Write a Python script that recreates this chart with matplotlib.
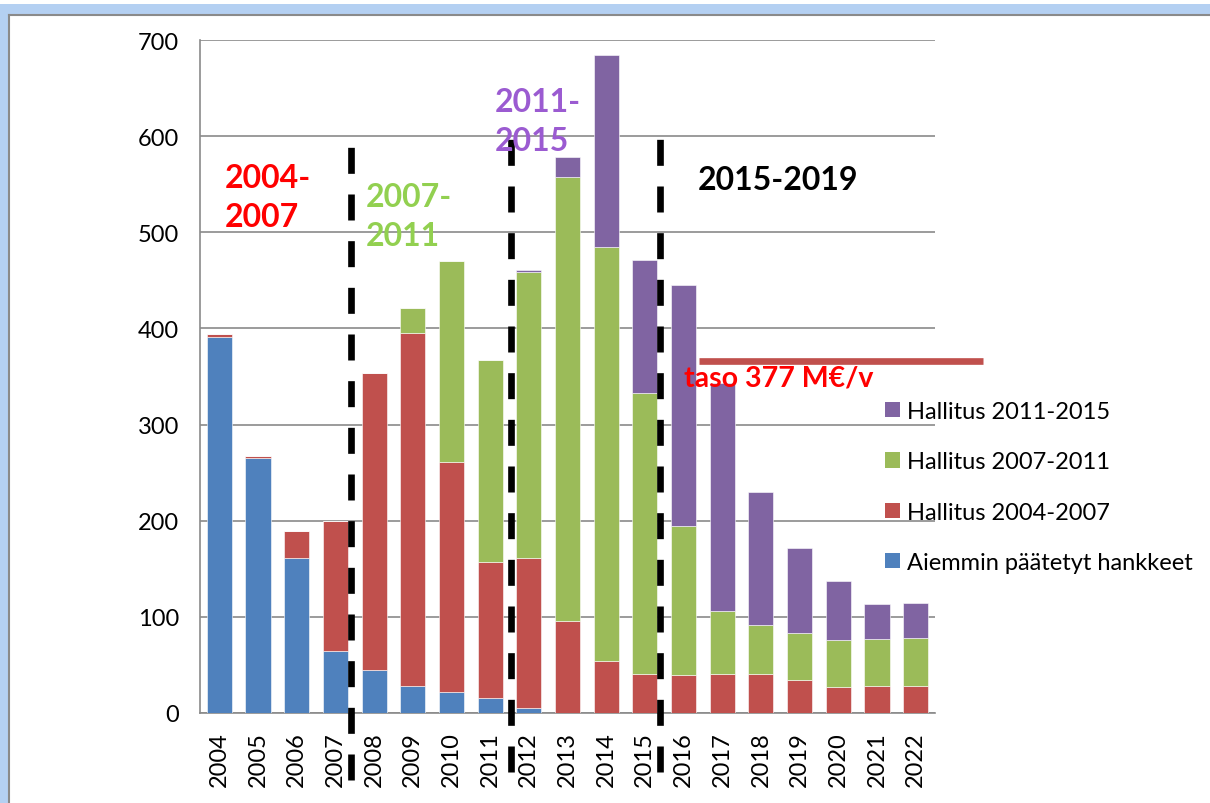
import numpy as np
import matplotlib.pyplot as plt
from matplotlib.patches import Rectangle, Patch
from matplotlib.lines import Line2D

plt.rcParams['font.family'] = ['Lato', 'DejaVu Sans']

years = [str(y) for y in range(2004, 2023)]
aiemmin = [391, 265, 161, 65, 45, 28, 22, 16, 5, 0, 0, 0, 0, 0, 0, 0, 0, 0, 0]
hall_0407 = [3, 2, 28, 135, 309, 367, 239, 141, 156, 96, 54, 41, 40, 41, 41, 34, 27, 28, 28]
hall_0711 = [0, 0, 0, 0, 0, 26, 209, 210, 298, 462, 431, 292, 155, 65, 51, 49, 49, 49, 50]
hall_1115 = [0, 0, 0, 0, 0, 0, 0, 0, 2, 20, 199, 138, 250, 237, 138, 89, 61, 36, 36]
labels = ['Aiemmin päätetyt hankkeet', 'Hallitus 2004-2007',
          'Hallitus 2007-2011', 'Hallitus 2011-2015']
colors = ['#4F81BD', '#C0504D', '#9BBB59', '#8064A2']
taso = 366  # level line as drawn in the picture

fig = plt.figure(figsize=(12.1, 8.04), dpi=100)
ax = fig.add_axes([200 / 1210, 1 - 714 / 804, 735 / 1210, 673 / 804])

x = np.arange(len(years))
bottom = np.zeros(len(years))
for vals, c in zip([aiemmin, hall_0407, hall_0711, hall_1115], colors):
    ax.bar(x, vals, width=0.65, bottom=bottom, color=c, edgecolor='white', linewidth=0.4, zorder=3)
    bottom += np.array(vals)

ax.set_xlim(-0.5, 18.5)
ax.set_ylim(0, 700)
ax.set_yticks(range(0, 701, 100))
ax.set_xticks(x)
ax.set_xticklabels(years, rotation=90)
ax.tick_params(axis='y', length=0, pad=15, labelsize=17)
ax.tick_params(axis='x', length=0, pad=13, labelsize=17)
ax.grid(axis='y', color='#8a8a8a', linewidth=1.2, zorder=0)
for s in ['top', 'right']:
    ax.spines[s].set_visible(False)
for s in ['left', 'bottom']:
    ax.spines[s].set_color('#8a8a8a')
    ax.spines[s].set_linewidth(1.2)

# government period separators
for xv, y0 in [(3.41, -70), (7.53, -61), (11.38, -61)]:
    top = 589 if xv < 4 else 598
    ax.plot([xv, xv], [y0, top], color='black', linewidth=4.8,
            dashes=(3.9, 3.1), clip_on=False, zorder=5)

# level line
ax.plot([12.39, 19.73], [taso, taso], color='#C0504D', linewidth=4.8,
        solid_capstyle='butt', clip_on=False, zorder=4)

ax.text(0.15, 572, '2004-\n2007', color='#FF0000', fontsize=23, fontweight='bold',
        va='top', ha='left', linespacing=1.4, zorder=6)
ax.text(3.78, 552, '2007-\n2011', color='#92D050', fontsize=23, fontweight='bold',
        va='top', ha='left', linespacing=1.4, zorder=6)
ax.text(7.11, 651, '2011-\n2015', color='#9B5BD1', fontsize=23, fontweight='bold',
        va='top', ha='left', linespacing=1.4, zorder=6)
ax.text(12.36, 570, '2015-2019', color='black', fontsize=23, fontweight='bold',
        va='top', ha='left', zorder=6)
ax.text(12.0, 362, 'taso 377 M€/v', color='#FF0000', fontsize=20.5, fontweight='bold',
        va='top', ha='left', zorder=6)

handles = [Patch(facecolor=c) for c in colors][::-1]
fig.legend(handles, labels[::-1], loc='upper left', bbox_to_anchor=(885 / 1210, 1 - 402 / 804),
           frameon=False, fontsize=17, handlelength=0.63, handleheight=0.63,
           handletextpad=0.3, labelspacing=1.24, borderpad=0, borderaxespad=0)

# window-like frame
fig.patches.append(Rectangle((0, 1 - 15 / 804), 1, 10 / 804, transform=fig.transFigure,
                             facecolor='#B4D0F2', edgecolor='none'))
fig.patches.append(Rectangle((0, 0), 8 / 1210, 1 - 12 / 804, transform=fig.transFigure,
                             facecolor='#B4D0F2', edgecolor='none'))
fig.lines.append(Line2D([9 / 1210, 1], [1 - 16 / 804, 1 - 16 / 804], transform=fig.transFigure,
                        color='#8a8a8a', linewidth=1.5))
fig.lines.append(Line2D([9 / 1210, 9 / 1210], [0, 1 - 16 / 804], transform=fig.transFigure,
                        color='#8a8a8a', linewidth=1.5))

fig.savefig('out.png', dpi=100)
